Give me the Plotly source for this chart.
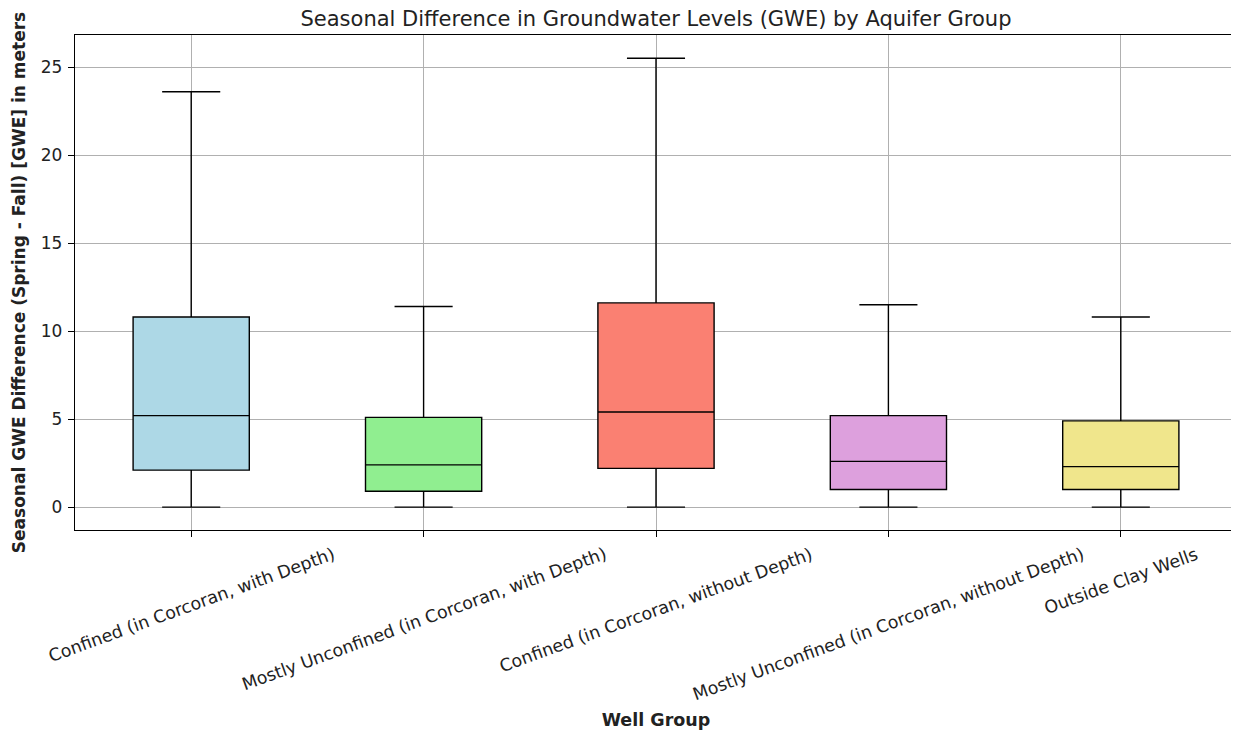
import plotly.graph_objects as go

groups = ["Confined (in Corcoran, with Depth)",
          "Mostly Unconfined (in Corcoran, with Depth)",
          "Confined (in Corcoran, without Depth)",
          "Mostly Unconfined (in Corcoran, without Depth)",
          "Outside Clay Wells"]
lower = [0.0, 0.0, 0.0, 0.0, 0.0]
q1 = [2.1, 0.9, 2.2, 1.0, 1.0]
median = [5.2, 2.4, 5.4, 2.6, 2.3]
q3 = [10.8, 5.1, 11.6, 5.2, 4.9]
upper = [23.6, 11.4, 25.5, 11.5, 10.8]
colors = ["lightblue", "lightgreen", "salmon", "plum", "khaki"]
positions = [1, 2, 3, 4, 5]
yticks = [0, 5, 10, 15, 20, 25]

FONT = "DejaVu Sans"
TXT = "#222222"
fig = go.Figure()
for i in range(len(groups)):
    fig.add_trace(go.Box(
        x=[positions[i]], q1=[q1[i]], median=[median[i]], q3=[q3[i]],
        lowerfence=[lower[i]], upperfence=[upper[i]],
        fillcolor=colors[i], line=dict(color="black", width=1.4),
        width=0.5, whiskerwidth=0.5, boxpoints=False, name=groups[i],
        showlegend=False, hoverinfo="skip",
    ))

# rotated category labels, centred under each tick (matplotlib rotation=20 style)
for i in range(len(groups)):
    fig.add_annotation(
        x=positions[i], xref="x", y=-0.022, yref="paper",
        text=groups[i], textangle=-20, showarrow=False,
        xanchor="center", yanchor="top",
        font=dict(size=17.4, family=FONT, color=TXT),
    )

fig.update_layout(
    width=1239, height=736,
    margin=dict(l=67, r=10, t=27, b=214),
    paper_bgcolor="white", plot_bgcolor="white",
    font=dict(family=FONT, size=17, color=TXT),
    title=dict(text="Seasonal Difference in Groundwater Levels (GWE) by Aquifer Group",
               x=0.523, xanchor="center", y=0.986, yanchor="middle",
               font=dict(size=21, family=FONT, color=TXT)),
)
fig.update_xaxes(
    range=[0.5, 5.5], tickmode="array", tickvals=positions,
    showticklabels=False,
    showgrid=True, gridcolor="#b0b0b0", gridwidth=1,
    showline=True, linecolor="black", linewidth=1.3, mirror=True,
    ticks="outside", ticklen=6, tickcolor="black", tickwidth=1.2, zeroline=False,
    title=dict(text="<b>Well Group</b>", font=dict(size=17.5, family=FONT, color=TXT),
               standoff=177),
)
fig.update_yaxes(
    range=[-1.3, 26.82], tickmode="array", tickvals=yticks,
    showgrid=True, gridcolor="#b0b0b0", gridwidth=1,
    showline=True, linecolor="black", linewidth=1.3, mirror=True,
    ticks="outside", ticklen=6, tickcolor="black", tickwidth=1.2, zeroline=False,
    ticklabelstandoff=2,
    tickfont=dict(size=17, family=FONT, color=TXT),
    title=dict(text="<b>Seasonal GWE Difference (Spring - Fall) [GWE] in meters</b>",
               font=dict(size=17, family=FONT, color=TXT), standoff=10),
)
fig.write_html("out.html")
